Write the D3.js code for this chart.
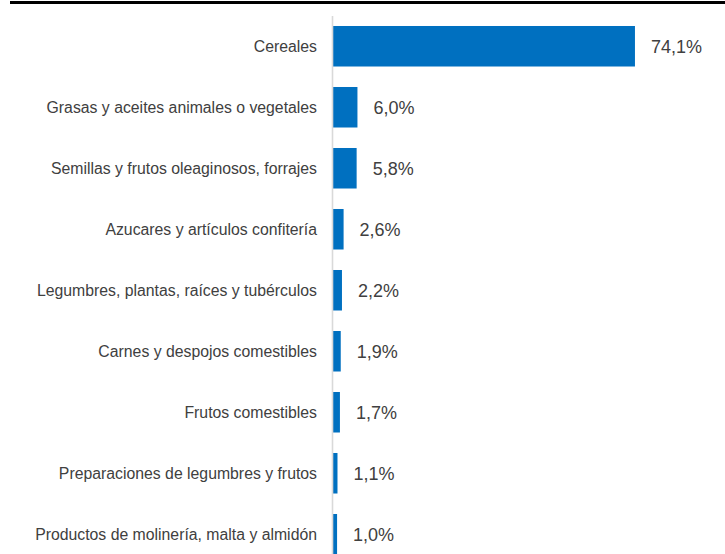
<!DOCTYPE html>
<html>
<head>
<meta charset="utf-8">
<script src="https://cdn.jsdelivr.net/npm/d3@7"></script>
<style>
  html, body { margin: 0; padding: 0; background: #fff; }
  svg { display: block; }
  text { font-family: "Liberation Sans", Arial, sans-serif; }
</style>
</head>
<body>
<script>
// Export shares by product group (%)
const categories = [
  "Cereales",
  "Grasas y aceites animales o vegetales",
  "Semillas y frutos oleaginosos, forrajes",
  "Azucares y artículos confitería",
  "Legumbres, plantas, raíces y tubérculos",
  "Carnes y despojos comestibles",
  "Frutos comestibles",
  "Preparaciones de legumbres y frutos",
  "Productos de molinería, malta y almidón"
];
const values = [74.1, 6.0, 5.8, 2.6, 2.2, 1.9, 1.7, 1.1, 1.0];
const valueLabels = ["74,1%", "6,0%", "5,8%", "2,6%", "2,2%", "1,9%", "1,7%", "1,1%", "1,0%"];

const W = 725, H = 554;
const svg = d3.select("body").append("svg")
  .attr("width", W).attr("height", H);

const x = d3.scaleLinear().domain([0, 80]).range([333, 659]);
const y = d3.scaleBand().domain(categories)
  .range([15.75, 564.75])
  .paddingInner(0.336)
  .paddingOuter(0.168);

// heavy rule across the top
svg.append("rect")
  .attr("x", 10).attr("y", 1)
  .attr("width", W - 10).attr("height", 3)
  .attr("fill", "#000");

// bars
svg.append("g").selectAll("rect")
  .data(values)
  .join("rect")
  .attr("x", x(0))
  .attr("y", (d, i) => y(categories[i]))
  .attr("width", d => x(d) - x(0))
  .attr("height", y.bandwidth())
  .attr("fill", "#0070C0");

// category axis line
svg.append("line")
  .attr("x1", 332.5).attr("x2", 332.5)
  .attr("y1", 16).attr("y2", H)
  .attr("stroke", "#d9d9d9").attr("stroke-width", 1.6);

// category labels, right-aligned against the axis
svg.append("g").selectAll("text")
  .data(categories)
  .join("text")
  .attr("x", 317)
  .attr("y", d => y(d) + y.bandwidth() / 2)
  .attr("dy", "0.35em")
  .attr("text-anchor", "end")
  .attr("font-size", 15.8)
  .attr("fill", "#404040")
  .text(d => d);

// value labels
svg.append("g").selectAll("text")
  .data(values)
  .join("text")
  .attr("x", d => x(d) + 16)
  .attr("y", (d, i) => y(categories[i]) + y.bandwidth() / 2)
  .attr("dy", "0.40em")
  .attr("font-size", 18)
  .attr("fill", "#404040")
  .text((d, i) => valueLabels[i]);
</script>
</body>
</html>
